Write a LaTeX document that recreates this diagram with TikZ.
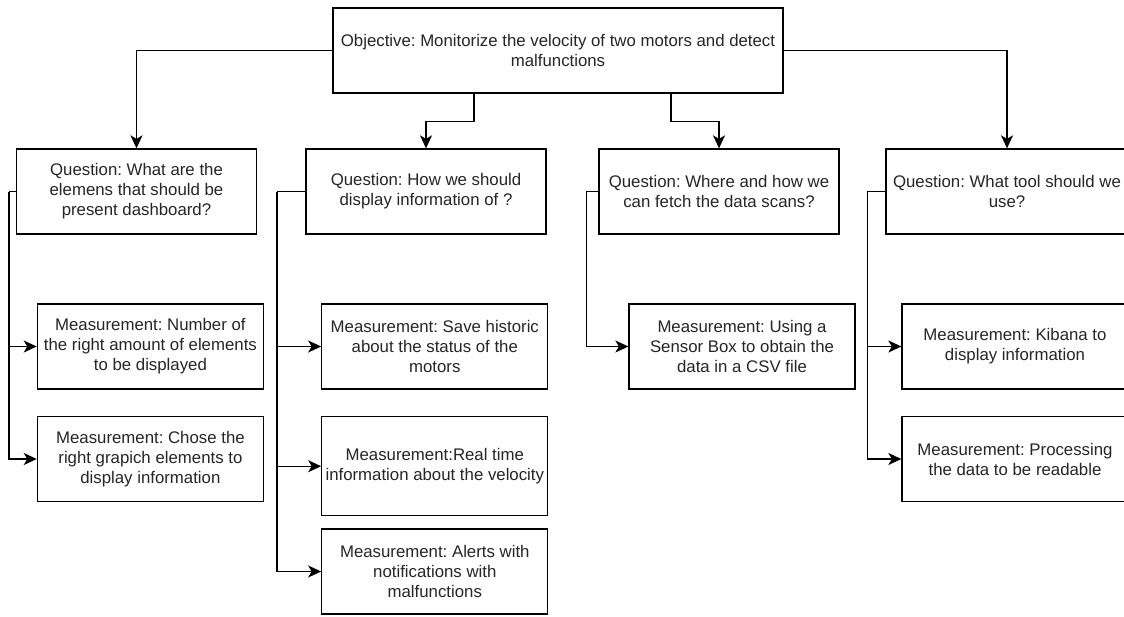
\documentclass[tikz,border=0pt]{standalone}
\usepackage{fontspec}
\setmainfont{Liberation Sans}
\usetikzlibrary{arrows.meta}
\frenchspacing
\begin{document}
\begin{tikzpicture}[x=1pt,y=-1pt,
  box/.style={draw=black,line width=1.3pt,rectangle,inner sep=2pt,align=center,
    font=\fontsize{16.8}{20}\selectfont\frenchspacing,text=black!85},
  qbox/.style={box,minimum width=240pt,minimum height=85pt},
  mbox/.style={box,minimum width=226pt,minimum height=85pt},
  arr/.style={line width=1.4pt,-{Stealth[length=13pt,width=12pt,inset=3.5pt]}},
  link/.style={line width=1.4pt}]
\clip (0,0) rectangle (1124,616);
\fill[white] (0,0) rectangle (1124,616);

% objective
\node[box,minimum width=450pt,minimum height=85pt] (obj) at (558,50.5)
  {Objective: Monitorize the velocity of two motors and detect\\malfunctions};

% questions
\node[qbox] (q1) at (136.5,191.5) {Question: What are the\\elemens that should be\\present dashboard?};
\node[qbox] (q2) at (426,191.5) {Question: How we should\\display information of ?};
\node[qbox] (q3) at (719,191.5) {Question: Where and how we\\can fetch the data scans?};
\node[qbox,minimum width=242pt] (q4) at (1007,191.5) {Question: What tool should we\\use?};

% measurements
\node[mbox] (m1) at (150.4,346.5) {Measurement: Number of\\the right amount of elements\\to be displayed};
\node[mbox] (m2) at (150.4,459) {Measurement: Chose the\\right grapich elements to\\display information};
\node[mbox] (m3) at (434.8,346.5) {Measurement: Save historic\\about the status of the\\motors};
\node[mbox,minimum height=99pt] (m4) at (434.8,466.2) {Measurement:Real time\\information about the velocity};
\node[mbox] (m5) at (434.8,571.5) {Measurement: Alerts with\\notifications with\\malfunctions};
\node[mbox] (m6) at (742,346.5) {Measurement: Using a\\Sensor Box to obtain the\\data in a CSV file};
\node[mbox] (m7) at (1015,346.5) {Measurement: Kibana to\\display information};
\node[mbox] (m8) at (1015,459) {Measurement: Processing\\the data to be readable};

% objective to questions
\coordinate (o2) at ([xshift=-84pt]obj.south);
\coordinate (o3) at ([xshift=113pt]obj.south);
\draw[arr] (obj.west) -| (q1.north);
\draw[arr] (o2) -- ++(0,28) -| (q2.north);
\draw[arr] (o3) -- ++(0,28) -| (q3.north);
\draw[arr] (obj.east) -| (q4.north);

% questions to measurements
\coordinate (b1) at ([xshift=-7pt]q1.west);
\draw[link] (q1.west) -- (b1);
\draw[arr] (b1) |- (m1.west);
\draw[arr] (b1) |- (m2.west);

\coordinate (b2) at ([xshift=-28.5pt]q2.west);
\draw[link] (q2.west) -- (b2);
\draw[arr] (b2) |- (m3.west);
\draw[arr] (b2) |- (m4.west);
\draw[arr] (b2) |- (m5.west);

\coordinate (b3) at ([xshift=-12pt]q3.west);
\draw[link] (q3.west) -- (b3);
\draw[arr] (b3) |- (m6.west);

\coordinate (b4) at ([xshift=-18pt]q4.west);
\draw[link] (q4.west) -- (b4);
\draw[arr] (b4) |- (m7.west);
\draw[arr] (b4) |- (m8.west);
\end{tikzpicture}
\end{document}
